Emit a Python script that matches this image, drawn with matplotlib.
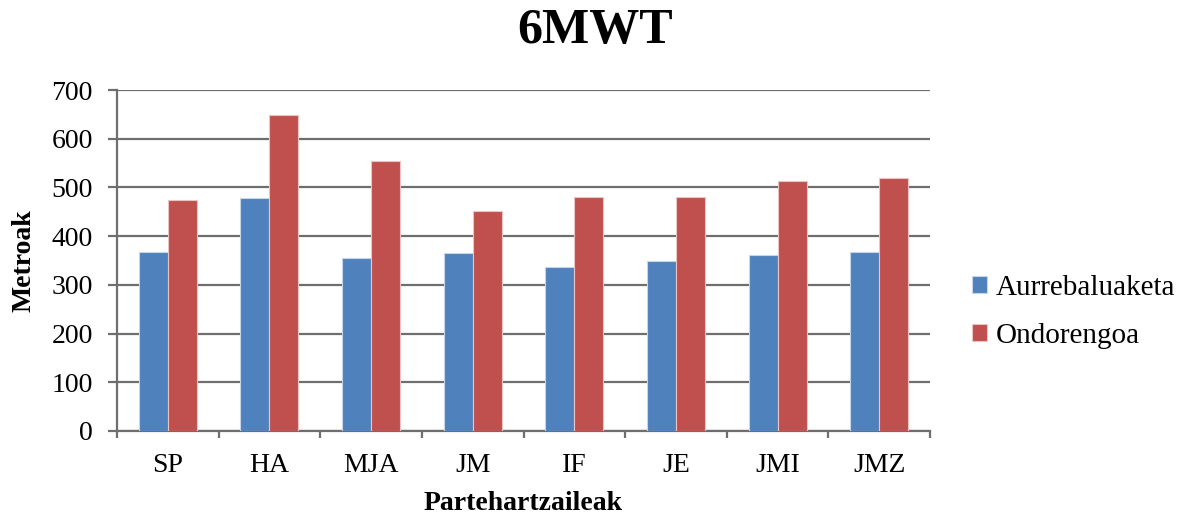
import matplotlib
matplotlib.use("Agg")
import matplotlib.pyplot as plt
import numpy as np

categories = ["SP", "HA", "MJA", "JM", "IF", "JE", "JMI", "JMZ"]
aurrebaluaketa = [368, 478, 355, 365, 337, 349, 361, 368]
ondorengoa = [474, 649, 554, 452, 481, 480, 513, 520]
series_names = ["Aurrebaluaketa", "Ondorengoa"]
yticks = [0, 100, 200, 300, 400, 500, 600, 700]

BLUE = "#4F81BD"
RED = "#C0504D"
GRID = "#6E6E6E"
serif = ["Liberation Serif", "DejaVu Serif"]

fig = plt.figure(figsize=(11.9, 5.16), dpi=100)
ax = fig.add_axes([117/1190, (516-431)/516, 813/1190, 341/516])

x = np.arange(len(categories))
w = 1/3.5
ax.bar(x - w/2, aurrebaluaketa, width=w, color=BLUE, edgecolor="#C6D5EA", linewidth=0.8, label=series_names[0], zorder=3)
ax.bar(x + w/2, ondorengoa, width=w, color=RED, edgecolor="#EBC3C2", linewidth=0.8, label=series_names[1], zorder=3)

ax.set_xlim(-0.5, len(categories) - 0.5)
ax.set_ylim(0, 700)
ax.set_yticks(yticks)
ax.set_yticklabels([str(v) for v in yticks], fontfamily=serif, fontsize=20)
ax.yaxis.grid(True, color=GRID, linewidth=1.6, zorder=0)
ax.set_axisbelow(True)

ax.set_xticks(x)
ax.set_xticklabels(categories, fontfamily=serif, fontsize=20)
ax.set_xticks(np.arange(-0.5, len(categories)), minor=True)
ax.tick_params(axis="x", which="major", length=0, pad=16)
ax.tick_params(axis="x", which="minor", length=5, width=1.6, color=GRID)
ax.tick_params(axis="y", which="major", length=6.5, width=1.6, color=GRID, pad=11)

for s in ["top", "right"]:
    ax.spines[s].set_visible(False)
for s in ["left", "bottom"]:
    ax.spines[s].set_color(GRID)
    ax.spines[s].set_linewidth(1.6)

ax.set_ylabel("Metroak", fontfamily=serif, fontsize=20, fontweight="bold", labelpad=11)
ax.set_xlabel("Partehartzaileak", fontfamily=serif, fontsize=20, fontweight="bold", labelpad=9)
fig.text(0.5, 0.939, "6MWT", ha="center", va="center", fontfamily=serif, fontsize=36, fontweight="bold")

leg = ax.legend(loc="center left", bbox_to_anchor=(1.019, 0.349), frameon=False,
                prop={"family": serif, "size": 21}, handlelength=0.52, handleheight=0.52,
                handletextpad=0.3, labelspacing=0.75)

fig.savefig("out.png", dpi=100)
